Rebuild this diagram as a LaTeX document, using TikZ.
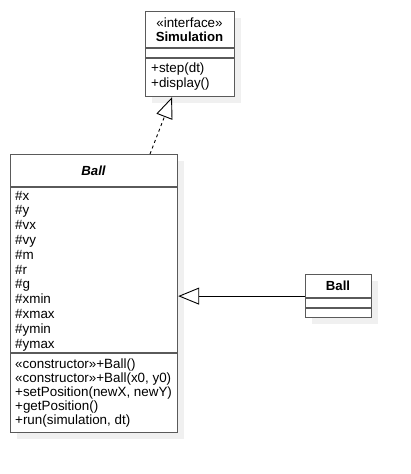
\documentclass[tikz,border=0pt]{standalone}
\usepackage{fontspec}
\setmainfont{Liberation Sans}
\usetikzlibrary{arrows.meta,shadows,calc}
\definecolor{boxline}{HTML}{5A5A5A}
\definecolor{shadowgray}{HTML}{F0F0F0}
\begin{document}
\begin{tikzpicture}[x=1pt,y=-1pt,
  classbox/.style={draw=boxline, line width=1.2pt, fill=white, inner sep=0pt, anchor=north west,
    general shadow={fill=shadowgray, shadow xshift=6pt, shadow yshift=-6pt}},
  sep/.style={draw=boxline, line width=1.2pt},
  txt/.style={font=\fontsize{13.4}{15}\selectfont, inner sep=0pt, anchor=base west},
  ctxt/.style={font=\fontsize{13.4}{15}\selectfont, inner sep=0pt, anchor=base},
  gen/.style={-{Triangle[open,length=21pt,width=17pt]}, line width=0.9pt},
]
\useasboundingbox[fill=white] (0,0) rectangle (411,474);

% Simulation interface
\node[classbox, minimum width=89pt, minimum height=85pt] (sim) at (145,11) {};
\draw[sep] (145,48) -- (234,48);
\draw[sep] (145,58) -- (234,58);
\node[ctxt] (simst) at (189.5,27.5) {«interface»};
\node[ctxt, font=\fontsize{13.2}{15}\selectfont\bfseries] (simname) at (189.5,41) {Simulation};
\node[txt] (simm1) at (151,72.5) {+step(dt)};
\node[txt] (simm2) at (151,87) {+display()};

% Abstract Ball
\node[classbox, minimum width=167pt, minimum height=278pt] (ball) at (10,154) {};
\draw[sep] (10,187) -- (177,187);
\draw[sep] (10,353) -- (177,353);
\node[ctxt, font=\fontsize{13.2}{15}\selectfont\bfseries\itshape] (ballname) at (93.5,175) {Ball};
\foreach \t [count=\i] in {\#x,\#y,\#vx,\#vy,\#m,\#r,\#g,\#xmin,\#xmax,\#ymin,\#ymax}
  \node[txt] (attr\i) at (15,185.2+14.8*\i) {\t};
\foreach \t [count=\i] in {«constructor»+Ball(),{«constructor»+Ball(x0, y0)},{+setPosition(newX, newY)},+getPosition(),{+run(simulation, dt)}}
  \node[txt] (meth\i) at (15,354+14*\i) {\t};

% Concrete Ball
\node[classbox, minimum width=66pt, minimum height=43pt] (sb) at (305,274) {};
\draw[sep] (305,298) -- (371,298);
\draw[sep] (305,308) -- (371,308);
\node[ctxt, font=\fontsize{13.2}{15}\selectfont\bfseries] (sbname) at (338,290.5) {Ball};

% Connectors
\coordinate (dtail) at ($(ball.north west)+(140,0)$);
\coordinate (dhead) at ($(sim.south west)+(27,0)$);
\draw[gen, dash pattern=on 3pt off 3pt] (dtail) -- (dhead);
\draw[gen] (sb.west) -- (sb.west -| ball.east);
\end{tikzpicture}
\end{document}
